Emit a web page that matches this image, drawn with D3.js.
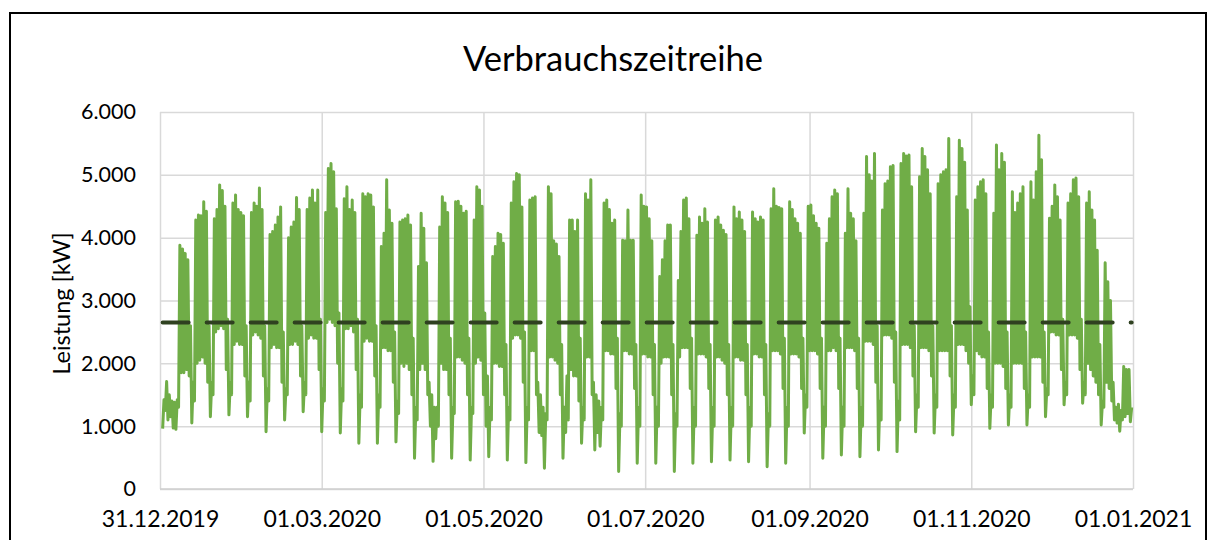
<!DOCTYPE html>
<html>
<head>
<meta charset="utf-8">
<script src="https://cdn.jsdelivr.net/npm/d3@7"></script>
<style>
  body { margin: 0; background: #fff; }
  svg { display: block; }
</style>
</head>
<body>
<svg id="chart" width="1216" height="540"></svg>
<script>
// ---------- data ----------
const chartTitle = "Verbrauchszeitreihe";
const yAxisTitle = "Leistung [kW]";
const firstDay = "01.01.2020";
const xTickLabels = ["31.12.2019", "01.03.2020", "01.05.2020", "01.07.2020", "01.09.2020", "01.11.2020", "01.01.2021"];
const yTickValues = [0, 1000, 2000, 3000, 4000, 5000, 6000];
const meanValue = 2650;

// daily maximum [kW], one value per day of 2020 (rows = weeks Mon..Sun)
const dayMax = [
  1420, 1710, 1500, 1400, 1380,
  1420, 3880, 3820, 3750, 3650, 2600, 1700,
  4280, 4360, 4350, 4570, 4420, 2600, 1700,
  4300, 4450, 4840, 4750, 4500, 2700, 1700,
  4550, 4680, 4450, 4400, 4350, 2600, 1700,
  4400, 4550, 4500, 4790, 4450, 2600, 1600,
  4050, 4100, 4200, 4330, 4490, 2500, 1600,
  4000, 4170, 4250, 4640, 4450, 2600, 1700,
  4450, 4630, 4760, 4550, 4760, 2700, 1600,
  4400, 5100, 5180, 5050, 4460, 2800, 1600,
  4620, 4810, 4450, 4600, 4400, 2700, 1500,
  4700, 4650, 4700, 4680, 4490, 2600, 1500,
  3860, 4070, 4920, 4440, 4230, 2500, 1400,
  4250, 4280, 4300, 4360, 4200, 2400, 1300,
  3540, 4390, 4150, 3600, 1700, 1500, 1300,
  1300, 4170, 4650, 4550, 4400, 2400, 1300,
  4570, 4580, 4500, 4390, 4420, 2400, 1300,
  4280, 4810, 4760, 4500, 2800, 1800, 1300,
  3700, 3860, 4070, 4050, 3910, 2300, 1300,
  4550, 4890, 5020, 5000, 4490, 2500, 1300,
  4600, 4630, 4650, 1700, 1500, 1300, 1200,
  4810, 4700, 3950, 3900, 3700, 2300, 1300,
  1800, 4280, 4280, 4100, 4280, 2400, 1300,
  4700, 4600, 4920, 1700, 1500, 1400, 1300,
  4550, 4600, 4450, 4230, 4280, 2400, 1200,
  3960, 3950, 4440, 3960, 3960, 2300, 1300,
  4680, 4500, 4490, 4300, 3950, 2300, 1300,
  3380, 3650, 3950, 4200, 4200, 2300, 1200,
  3320, 4100, 4600, 4630, 4300, 2400, 1300,
  4040, 4330, 4230, 4460, 4250, 2300, 1300,
  4280, 4330, 4200, 4120, 4050, 2300, 1300,
  4490, 4300, 4410, 4280, 4100, 2300, 1300,
  4410, 4300, 4250, 4330, 4280, 2300, 1200,
  4460, 4780, 4500, 4480, 4460, 2400, 1300,
  4570, 4450, 4300, 4230, 4070, 2400, 1500,
  4500, 4520, 4350, 4230, 4150, 2400, 1300,
  3910, 4300, 4650, 4760, 4700, 2400, 1300,
  4070, 4780, 4390, 4300, 3950, 2400, 1300,
  4390, 5290, 5000, 4900, 5340, 2600, 1400,
  4440, 4860, 4900, 5130, 5150, 2500, 1400,
  5180, 5340, 5300, 5315, 4810, 2600, 1500,
  4970, 5420, 5290, 5080, 4700, 2600, 1500,
  4860, 5000, 5050, 5080, 5580, 2600, 1500,
  4650, 5550, 5420, 5200, 4440, 2900, 1800,
  4600, 4810, 4890, 4920, 4700, 2500, 1500,
  4390, 5475, 5080, 5340, 5200, 2500, 1500,
  4730, 4400, 4550, 4700, 4810, 2500, 1500,
  4890, 4600, 5050, 5630, 5240, 2500, 1600,
  4310, 4500, 4840, 4650, 4280, 2700, 1700,
  4550, 4700, 4920, 4950, 4650, 2700, 1700,
  4550, 4730, 4440, 4280, 3800, 2300, 1400,
  3600, 3300, 3000, 1700, 1300, 1350, 1250,
  1950, 1900, 1900, 1300
];

// daily minimum [kW], same days
const dayMin = [
  960, 1250, 1100, 1150, 970,
  950, 1300, 1850, 1850, 1900, 1800, 1050,
  1400, 2000, 2050, 2100, 2000, 1700, 1150,
  1500, 2500, 2550, 2600, 2550, 1900, 1180,
  1500, 2300, 2350, 2300, 2300, 1800, 1150,
  1400, 2450, 2500, 2450, 2400, 1800, 910,
  1400, 2250, 2300, 2250, 2250, 1700, 1100,
  1500, 2300, 2300, 2350, 2300, 1800, 1230,
  1500, 2400, 2450, 2400, 2400, 1900, 910,
  1400, 2650, 2700, 2650, 2600, 2000, 890,
  1400, 2550, 2550, 2600, 2500, 1900, 730,
  1300, 2350, 2400, 2350, 2350, 1800, 730,
  1300, 2250, 2250, 2200, 2200, 1700, 750,
  1200, 2000, 1950, 2000, 1900, 1500, 490,
  1100, 1900, 2000, 1900, 1500, 1000, 440,
  800, 1000, 2000, 1900, 1900, 1500, 490,
  1200, 2100, 2100, 2050, 2000, 1500, 460,
  1200, 2000, 2100, 2050, 1500, 1000, 515,
  1100, 2000, 2000, 1950, 1950, 1500, 460,
  1100, 2400, 2450, 2450, 2400, 1700, 420,
  1100, 2200, 2200, 1500, 900, 850, 330,
  1100, 2100, 2100, 2050, 2000, 1500, 490,
  900, 1100, 1900, 1800, 1800, 1400, 730,
  1100, 2100, 2100, 1500, 620, 900, 680,
  1100, 2200, 2200, 2150, 2150, 1600, 280,
  1000, 2200, 2200, 2150, 2150, 1600, 410,
  1000, 2150, 2150, 2100, 2100, 1500, 410,
  1000, 2000, 2100, 2100, 2100, 1500, 280,
  1000, 2100, 2250, 2250, 2250, 1600, 410,
  1000, 2150, 2150, 2150, 2100, 1600, 435,
  1000, 2100, 2100, 2050, 2000, 1500, 460,
  1000, 2100, 2100, 2050, 2050, 1500, 435,
  1000, 2150, 2150, 2100, 2100, 1500, 355,
  1000, 2200, 2200, 2200, 2150, 1600, 410,
  1000, 2150, 2150, 2150, 2100, 1600, 890,
  1300, 2200, 2200, 2200, 2150, 1600, 490,
  1000, 2200, 2200, 2250, 2200, 1600, 540,
  1000, 2250, 2250, 2250, 2200, 1600, 515,
  1000, 2350, 2350, 2350, 2300, 1700, 620,
  1100, 2450, 2450, 2450, 2400, 1700, 595,
  1100, 2300, 2300, 2300, 2250, 1800, 910,
  1300, 2250, 2250, 2250, 2200, 1800, 890,
  1300, 2200, 2200, 2200, 2200, 1800, 860,
  1300, 2300, 2300, 2300, 2200, 2000, 1340,
  1500, 2200, 2150, 2100, 2100, 1600, 965,
  1300, 2000, 2000, 2000, 1950, 1600, 1020,
  1300, 2000, 2000, 2000, 2000, 1600, 1020,
  1300, 2100, 2100, 2100, 2100, 1700, 1150,
  1500, 2500, 2500, 2450, 2450, 1900, 1340,
  1500, 2450, 2450, 2450, 2400, 1900, 1365,
  1500, 2000, 1900, 1800, 1700, 1500, 1020,
  1300, 1700, 1600, 1400, 1100, 1050, 920,
  1100, 1150, 1200, 1070
];

// ---------- chart ----------
const W = 1216, H = 540;
const plot = { left: 160, right: 1133, top: 112, bottom: 489 };
const FONT = "Lato, 'Open Sans', sans-serif";
const parseDE = d3.timeParse("%d.%m.%Y");
const fmtDE = d3.timeFormat("%d.%m.%Y");
const de = d3.formatLocale({ decimal: ",", thousands: ".", grouping: [3], currency: ["", " €"] });
const fmtNum = de.format(",.0f");

const svg = d3.select("#chart");
svg.append("rect").attr("x", 0).attr("y", 0).attr("width", W).attr("height", H).attr("fill", "#fff");

// outer chart frame
svg.append("rect")
  .attr("x", 10).attr("y", 13).attr("width", 1196).attr("height", 560)
  .attr("fill", "none").attr("stroke", "#000").attr("stroke-width", 2);

const xTicks = xTickLabels.map(parseDE);
const x = d3.scaleTime()
  .domain([xTicks[0], xTicks[xTicks.length - 1]])
  .range([plot.left, plot.right]);
const y = d3.scaleLinear()
  .domain([yTickValues[0], yTickValues[yTickValues.length - 1]])
  .range([plot.bottom, plot.top]);

// y gridlines + labels
const yAxis = svg.append("g")
  .attr("transform", `translate(${plot.left},0)`)
  .call(d3.axisLeft(y).tickValues(yTickValues).tickFormat(fmtNum)
        .tickSize(-(plot.right - plot.left)).tickPadding(24));
yAxis.select(".domain").remove();
yAxis.selectAll(".tick line").attr("stroke", "#d9d9d9").attr("stroke-width", 1.5);
yAxis.selectAll(".tick text").attr("fill", "#000").style("font-family", FONT).style("font-size", "21.5px");

// x gridlines + labels
const xAxis = svg.append("g")
  .attr("transform", `translate(0,${plot.bottom})`)
  .call(d3.axisBottom(x).tickValues(xTicks).tickFormat(fmtDE)
        .tickSize(-(plot.bottom - plot.top)).tickPadding(22));
xAxis.select(".domain").remove();
xAxis.selectAll(".tick line").attr("stroke", "#d9d9d9").attr("stroke-width", 1.5);
xAxis.selectAll(".tick text").attr("fill", "#000").style("font-family", FONT).style("font-size", "23px");

// bottom axis line
svg.append("line")
  .attr("x1", plot.left).attr("x2", plot.right)
  .attr("y1", y(0)).attr("y2", y(0))
  .attr("stroke", "#cfcfcf").attr("stroke-width", 1.5);

// series: each day contributes its minimum (00:00) and maximum (12:00)
const start = parseDE(firstDay);
const points = [];
dayMax.forEach((mx, i) => {
  const day = d3.timeDay.offset(start, i);
  points.push({ t: day, v: dayMin[i] });
  points.push({ t: d3.timeHour.offset(day, 12), v: mx });
});

const line = d3.line().x(d => x(d.t)).y(d => y(d.v));
svg.append("path")
  .datum(points)
  .attr("d", line)
  .attr("fill", "none")
  .attr("stroke", "#70ad47")
  .attr("stroke-width", 3)
  .attr("stroke-linejoin", "round");

// mean line
const meanPts = [{ t: points[0].t, v: meanValue }, { t: points[points.length - 1].t, v: meanValue }];
svg.append("path")
  .datum(meanPts)
  .attr("d", line)
  .attr("fill", "none")
  .attr("stroke", "#2f4120")
  .attr("stroke-width", 4)
  .attr("stroke-linecap", "round")
  .attr("stroke-dasharray", "26,18");

// title
svg.append("text")
  .attr("x", 613).attr("y", 71)
  .attr("text-anchor", "middle")
  .style("font-family", FONT).style("font-size", "34.5px")
  .attr("fill", "#000")
  .text(chartTitle);

// y axis title
svg.append("text")
  .attr("transform", `translate(70,${(plot.top + plot.bottom) / 2 + 3}) rotate(-90)`)
  .attr("text-anchor", "middle")
  .style("font-family", FONT).style("font-size", "23.5px")
  .attr("fill", "#000")
  .text(yAxisTitle);
</script>
</body>
</html>
